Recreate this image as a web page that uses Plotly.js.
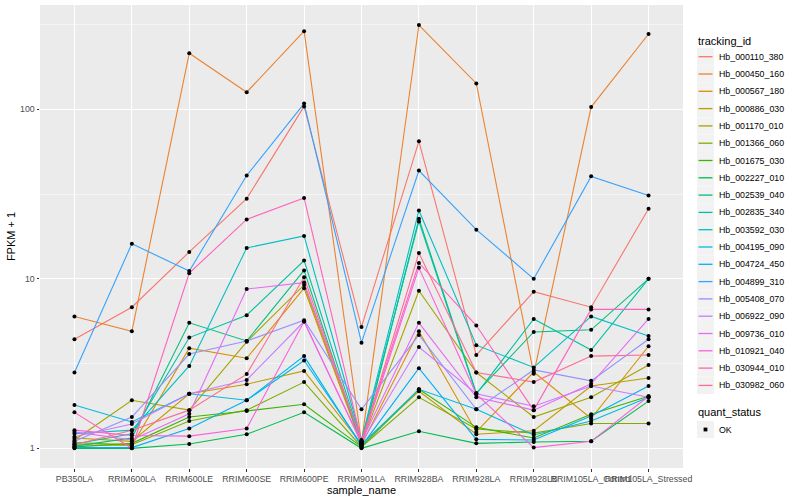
<!DOCTYPE html>
<html><head><meta charset="utf-8">
<script src="https://cdn.plot.ly/plotly-3.0.1.min.js"></script>
<style>html,body{margin:0;padding:0;background:#fff}#chart{width:800px;height:500px}</style>
</head><body><div id="chart"></div>
<script>
const samples = ["PB350LA","RRIM600LA","RRIM600LE","RRIM600SE","RRIM600PE","RRIM901LA","RRIM928BA","RRIM928LA","RRIM928LB","RRIM105LA_Control","RRIM105LA_Stressed"];
const trackingIds = ["Hb_000110_380","Hb_000450_160","Hb_000567_180","Hb_000886_030","Hb_001170_010","Hb_001366_060","Hb_001675_030","Hb_002227_010","Hb_002539_040","Hb_002835_340","Hb_003592_030","Hb_004195_090","Hb_004724_450","Hb_004899_310","Hb_005408_070","Hb_006922_090","Hb_009736_010","Hb_010921_040","Hb_030944_010","Hb_030982_060"];
const colors = ["#F8766D","#EA8331","#D89000","#C09B00","#A3A500","#7CAE00","#39B600","#00BB4E","#00BF7D","#00C1A3","#00BFC4","#00BAE0","#00B0F6","#35A2FF","#9590FF","#C77CFF","#E76BF3","#FA62DB","#FF62BC","#FF6C91"];
const quantStatus = ["OK"];
const s000110 = [4.4, 6.8, 14.4, 29.7, 104, 5.2, 64.7, 3.55, 8.4, 6.8, 25.9];
const s000450 = [6.0, 4.9, 214, 126, 289, 1.08, 314, 142, 2.75, 103, 278];
const s000567 = [1.05, 1.04, 3.9, 3.4, 8.8, 1.05, 4.9, 1.25, 2.82, 1.5, 4.0];
const s000886 = [1.15, 1.1, 2.1, 2.39, 2.86, 1.06, 2.17, 1.21, 1.27, 2.33, 2.6];
const s001170 = [1.12, 1.92, 1.68, 4.25, 9.2, 1.07, 8.5, 2.8, 1.53, 2.0, 3.1];
const s001366 = [1.08, 1.05, 1.45, 1.68, 2.46, 1.02, 2.0, 1.3, 1.23, 1.4, 1.4];
const s001675 = [1.02, 1.07, 1.53, 1.66, 1.82, 1.02, 2.23, 1.33, 1.15, 1.59, 2.03];
const s002227 = [1.0, 1.0, 1.06, 1.21, 1.63, 1.0, 1.26, 1.07, 1.09, 1.1, 1.9];
const s002539 = [1.03, 1.15, 5.5, 4.3, 11.2, 1.04, 22.6, 2.12, 4.86, 5.0, 10];
const s002835 = [1.06, 1.22, 4.5, 6.1, 12.8, 1.1, 21.8, 2.09, 5.8, 3.8, 10];
const s003592 = [1.22, 1.28, 3.06, 15.2, 17.9, 1.12, 25.3, 4.06, 3.0, 6.0, 4.6];
const s004195 = [1.8, 1.43, 2.1, 1.92, 3.3, 1.05, 2.23, 1.7, 1.2, 1.45, 2.0];
const s004724 = [1.01, 1.01, 1.31, 1.92, 3.5, 1.03, 2.97, 1.13, 1.12, 1.55, 2.33];
const s004899 = [2.8, 16.1, 11.1, 40.7, 108, 4.2, 43.5, 19.5, 10, 40.2, 31];
const s005408 = [1.1, 1.53, 3.6, 4.3, 5.7, 1.7, 4.66, 1.7, 2.9, 2.5, 4.4];
const s006922 = [1.17, 1.39, 2.1, 2.53, 5.6, 1.08, 3.96, 2.1, 1.77, 2.33, 2.0];
const s009736 = [1.25, 1.12, 1.6, 8.7, 9.5, 1.1, 5.5, 2.0, 1.68, 2.4, 5.8];
const s010921 = [1.28, 1.19, 1.18, 1.31, 5.6, 1.07, 11.6, 2.09, 1.01, 1.1, 2.03];
const s030944 = [1.63, 1.0, 10.8, 22.4, 30, 1.1, 12.4, 5.3, 1.68, 6.6, 6.6];
const s030982 = [1.05, 1.28, 1.68, 2.74, 10.2, 1.09, 14.2, 2.8, 2.46, 3.5, 3.55];
const seriesValues = [s000110,s000450,s000567,s000886,s001170,s001366,s001675,s002227,s002539,s002835,s003592,s004195,s004724,s004899,s005408,s006922,s009736,s010921,s030944,s030982];

const traces = trackingIds.map((id,i)=>({
  type:'scatter', mode:'lines', x:samples, y:seriesValues[i], name:id,
  line:{color:colors[i], width:1.1}, showlegend:false, hoverinfo:'skip'
}));
const px=[], py=[];
seriesValues.forEach(v=>v.forEach((y,j)=>{px.push(samples[j]); py.push(y);}));
traces.push({type:'scatter', mode:'markers', x:px, y:py, name:quantStatus[0], showlegend:false,
  marker:{color:'#000', size:4, symbol:'circle'}, hoverinfo:'skip'});

// legend drawn in pixel space converted to paper coordinates
const L=40, R=683, T=5, B=468;
const pxX = p => (p-L)/(R-L);
const pxY = p => (B-p)/(B-T);
const fnt = "Liberation Sans, Arial, sans-serif";
const shapes=[], annotations=[];
annotations.push({xref:'paper', yref:'paper', x:pxX(696), y:pxY(41), xanchor:'left', yanchor:'middle',
  text:'tracking_id', showarrow:false, font:{size:11, color:'#000'}});
trackingIds.forEach((id,i)=>{
  const cy = 56.7 + 17.3*i;
  shapes.push({type:'rect', xref:'paper', yref:'paper', x0:pxX(697), x1:pxX(714), y0:pxY(cy-8.6), y1:pxY(cy+8.6),
    fillcolor:'#F2F2F2', line:{width:0}, layer:'below'});
  shapes.push({type:'line', xref:'paper', yref:'paper', x0:pxX(698.5), x1:pxX(712.5), y0:pxY(cy), y1:pxY(cy),
    line:{color:colors[i], width:1.3}});
  annotations.push({xref:'paper', yref:'paper', x:pxX(716.5), y:pxY(cy), xanchor:'left', yanchor:'middle',
    text:id, showarrow:false, font:{size:8.8, color:'#000'}});
});
annotations.push({xref:'paper', yref:'paper', x:pxX(696), y:pxY(412), xanchor:'left', yanchor:'middle',
  text:'quant_status', showarrow:false, font:{size:11, color:'#000'}});
quantStatus.forEach((q,i)=>{
  const cy = 429.5 + 17.3*i;
  shapes.push({type:'rect', xref:'paper', yref:'paper', x0:pxX(697), x1:pxX(714), y0:pxY(cy-8.6), y1:pxY(cy+8.6),
    fillcolor:'#F2F2F2', line:{width:0}, layer:'below'});
  shapes.push({type:'rect', xref:'paper', yref:'paper', x0:pxX(703.6), x1:pxX(707.4), y0:pxY(cy-1.9), y1:pxY(cy+1.9),
    fillcolor:'#000', line:{width:0}});
  annotations.push({xref:'paper', yref:'paper', x:pxX(716.5), y:pxY(cy), xanchor:'left', yanchor:'middle',
    text:q, showarrow:false, font:{size:8.8, color:'#000'}});
});

const layout = {
  width:800, height:500, paper_bgcolor:'#fff', plot_bgcolor:'#EBEBEB',
  margin:{l:L, r:800-R, t:T, b:500-B},
  font:{family:fnt, color:'#000'},
  showlegend:false,
  xaxis:{type:'category', range:[-0.6,10.6], showgrid:true, gridcolor:'#fff', gridwidth:1.1,
    zeroline:false, showline:false, ticks:'outside', ticklen:2.5, tickcolor:'#333',
    tickfont:{size:8.8, color:'#4D4D4D'}, tickangle:0,
    title:{text:'sample_name', font:{size:11}, standoff:2}},
  yaxis:{type:'log', range:[-0.116,2.615], tickvals:[1,10,100], ticktext:['1','10','100'],
    showgrid:true, gridcolor:'#fff', gridwidth:1.1, zeroline:false, showline:false,
    ticks:'outside', ticklen:2.5, tickcolor:'#333', tickfont:{size:8.8, color:'#4D4D4D'},
    minor:{tickvals:[3.1623,31.623,316.23], showgrid:true, gridcolor:'#fff', gridwidth:0.5, ticklen:0},
    title:{text:'FPKM + 1', font:{size:11}, standoff:2}},
  shapes:shapes, annotations:annotations
};
Plotly.newPlot('chart', traces, layout, {staticPlot:true, displayModeBar:false});
</script></body></html>
